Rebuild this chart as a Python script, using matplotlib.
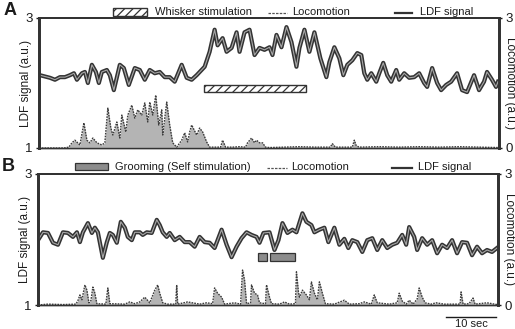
import matplotlib
matplotlib.use('Agg')
import matplotlib.pyplot as plt
from matplotlib.patches import Rectangle
from matplotlib.lines import Line2D

plt.rcParams['font.family'] = ['Liberation Sans', 'DejaVu Sans']
plt.rcParams['hatch.linewidth'] = 0.9

# ---------------- data (time in s, values in a.u.) ----------------
a_ldf_t = [0.2, 1.2, 2.2, 3.2, 4.2, 5.2, 6.2, 7.0, 7.6, 8.6, 9.2, 9.8, 10.6, 11.4, 12.0,
           12.6, 13.6, 14.2, 15.0, 16.2, 17.0, 18.0, 19.2, 20.2, 21.2, 22.2, 23.2, 24.2,
           25.2, 26.2, 27.2, 28.6, 29.6, 30.6, 31.6, 33.2, 34.2, 35.2, 35.8, 36.8, 37.6,
           38.6, 39.6, 40.2, 41.2, 42.2, 43.2, 44.2, 45.2, 46.2, 46.8, 47.6, 48.6, 49.6,
           50.6, 51.6, 52.2, 53.2, 54.2, 55.2, 56.4, 57.6, 58.2, 59.2, 60.2, 61.0, 61.8,
           62.8, 63.8, 64.6, 65.2, 65.8, 66.6, 67.6, 68.2, 69.0, 69.8, 70.6, 71.6, 72.2,
           73.2, 74.2, 75.2, 76.2, 77.2, 77.8, 78.8, 79.8, 80.6, 81.6, 82.6, 83.8, 84.8,
           85.8, 87.2, 88.2, 89.2, 89.8, 90.8, 91.6, 92.0]
a_ldf = [2.12, 2.10, 2.08, 2.05, 2.09, 2.09, 2.12, 2.15, 2.05, 2.15, 2.17, 2.00, 2.28, 2.17, 2.00,
         2.17, 2.20, 2.12, 1.89, 2.28, 2.23, 1.97, 2.23, 2.20, 2.05, 2.20, 2.15, 2.17,
         2.09, 2.09, 2.02, 2.28, 2.08, 2.05, 2.12, 2.25, 2.48, 2.82, 2.58, 2.69, 2.48,
         2.54, 2.78, 2.48, 2.78, 2.82, 2.43, 2.54, 2.51, 2.55, 2.43, 2.74, 2.55, 2.86,
         2.63, 2.25, 2.54, 2.82, 2.48, 2.78, 2.38, 2.09, 2.32, 2.55, 2.38, 2.12, 2.28,
         2.35, 2.46, 2.43, 2.15, 2.05, 2.15, 2.02, 2.15, 2.31, 2.12, 2.02, 2.20, 2.05,
         2.15, 2.08, 2.09, 2.15, 2.00, 1.94, 2.23, 2.00, 1.89, 1.97, 2.02, 2.15, 1.89,
         1.86, 2.12, 1.89, 2.02, 2.17, 2.05, 1.94, 2.02]

a_loco_t = [0.0, 5.0, 6.0, 6.6, 7.2, 8.2, 9.0, 9.6, 10.2, 10.8, 11.6, 12.6, 13.2, 13.8, 14.4,
            14.8, 15.6, 16.2, 16.6, 17.4, 17.8, 18.6, 19.2, 19.8, 20.6, 21.2, 21.8, 22.2,
            22.8, 23.4, 24.0, 24.6, 24.8, 25.6, 26.2, 26.8, 27.6, 28.6, 29.2, 29.8, 30.2,
            30.6, 31.6, 32.2, 32.8, 33.6, 34.2, 35.6, 36.4, 36.8, 37.4, 38.8, 40.2, 41.4,
            41.8, 42.6, 43.2, 43.6, 44.2, 44.8, 45.4, 46.2, 49.2, 52.2, 55.2, 58.4, 58.8,
            59.4, 62.8, 63.2, 63.6, 64.2, 68.2, 72.2, 76.2, 80.2, 84.2, 88.2, 92.0]
a_loco = [0.00, 0.00, 0.02, 0.12, 0.18, 0.07, 0.58, 0.18, 0.12, 0.23, 0.12, 0.07, 0.12, 0.92, 0.46,
          0.30, 0.60, 0.23, 0.76, 0.37, 0.76, 0.99, 0.69, 0.88, 0.76, 1.04, 0.60, 1.06,
          0.76, 1.22, 0.53, 0.88, 0.30, 1.06, 0.53, 0.12, 0.02, 0.18, 0.35, 0.14, 0.37,
          0.53, 0.30, 0.46, 0.37, 0.14, 0.02, 0.02, 0.02, 0.18, 0.02, 0.02, 0.03, 0.02,
          0.12, 0.23, 0.12, 0.18, 0.12, 0.12, 0.02, 0.01, 0.02, 0.03, 0.02, 0.02, 0.10,
          0.02, 0.02, 0.18, 0.05, 0.02, 0.03, 0.02, 0.03, 0.02, 0.03, 0.02, 0.01]

b_ldf_t = [0.0, 1.0, 2.0, 3.0, 4.0, 5.0, 6.0, 7.0, 7.8, 8.4, 9.0, 10.0, 10.8, 11.4, 12.0,
           13.0, 13.8, 14.4, 15.0, 15.8, 16.6, 17.4, 18.0, 18.8, 19.4, 20.4, 21.0, 21.8,
           22.8, 23.8, 24.4, 25.0, 25.8, 26.4, 27.4, 28.4, 29.4, 30.4, 31.4, 32.4, 33.4,
           34.4, 35.4, 36.8, 37.8, 38.8, 39.8, 40.8, 41.8, 42.8, 43.8, 44.4, 45.2, 46.4,
           47.4, 48.2, 49.0, 50.0, 51.0, 51.8, 53.0, 53.8, 54.8, 55.4, 56.4, 57.4, 58.2,
           59.4, 60.4, 61.4, 62.2, 63.0, 64.0, 65.0, 66.0, 67.0, 68.0, 69.0, 70.0, 71.0,
           72.0, 73.0, 73.8, 74.4, 75.4, 76.0, 77.0, 78.0, 79.0, 80.0, 81.0, 82.0, 83.0,
           84.0, 85.0, 86.0, 87.0, 88.0, 89.0, 90.0, 91.0, 92.0]
b_ldf = [1.99, 2.11, 2.10, 1.95, 1.92, 2.11, 2.10, 2.04, 2.11, 1.96, 2.11, 2.25, 2.10, 2.18, 2.11,
         1.72, 1.96, 2.10, 2.07, 1.95, 2.27, 2.18, 2.04, 1.99, 2.11, 2.11, 2.07, 2.11,
         2.10, 2.30, 2.22, 2.11, 2.04, 2.10, 1.99, 2.04, 1.96, 1.96, 1.89, 2.04, 1.96,
         1.95, 1.87, 2.15, 1.92, 1.73, 1.89, 2.02, 2.11, 2.07, 2.04, 1.95, 2.10, 2.11,
         1.84, 1.99, 2.25, 2.10, 2.15, 2.11, 2.40, 2.27, 2.22, 2.11, 2.15, 2.18, 1.96,
         2.18, 1.92, 2.01, 1.87, 1.99, 1.96, 1.81, 1.99, 2.02, 1.84, 1.99, 1.87, 1.92,
         1.95, 2.07, 1.92, 2.19, 2.04, 1.84, 2.02, 1.92, 1.99, 1.79, 1.92, 1.87, 1.99,
         1.79, 1.96, 1.95, 1.76, 1.89, 1.79, 1.84, 1.81, 1.87]

b_loco_t = [0.0, 2.0, 5.0, 7.6, 8.0, 8.4, 8.8, 9.4, 9.8, 10.2, 10.6, 11.0, 11.4, 11.8, 13.6,
            14.0, 14.4, 17.4, 18.4, 19.4, 20.4, 21.4, 22.4, 23.4, 24.0, 24.4, 25.0, 26.0,
            27.6, 27.8, 28.0, 30.0, 32.4, 33.8, 35.0, 35.4, 36.0, 36.8, 37.4, 39.4, 40.6,
            41.0, 41.4, 41.8, 42.6, 42.8, 43.4, 44.0, 44.4, 45.6, 45.8, 46.4, 46.8, 48.4,
            49.4, 50.4, 51.6, 51.8, 52.2, 52.4, 53.0, 53.8, 54.4, 54.8, 55.4, 56.0, 56.4,
            57.0, 57.6, 59.4, 61.4, 62.4, 64.4, 65.4, 66.8, 67.4, 68.0, 70.4, 72.0, 72.4,
            73.0, 73.8, 74.4, 75.2, 76.0, 76.4, 77.0, 77.6, 78.8, 79.8, 81.4, 84.6, 84.8,
            85.2, 86.4, 87.2, 87.6, 90.0, 92.0]
b_loco = [0.00, 0.02, 0.01, 0.02, 0.10, 0.23, 0.12, 0.46, 0.34, 0.05, 0.10, 0.41, 0.27, 0.03, 0.02,
          0.39, 0.03, 0.02, 0.07, 0.03, 0.07, 0.18, 0.05, 0.34, 0.46, 0.27, 0.05, 0.02,
          0.02, 0.46, 0.02, 0.07, 0.02, 0.05, 0.03, 0.39, 0.27, 0.18, 0.02, 0.05, 0.02,
          0.80, 0.57, 0.03, 0.05, 0.46, 0.27, 0.23, 0.05, 0.03, 0.46, 0.18, 0.03, 0.02,
          0.07, 0.02, 0.03, 0.76, 0.30, 0.18, 0.34, 0.23, 0.12, 0.53, 0.27, 0.12, 0.53,
          0.27, 0.03, 0.02, 0.11, 0.02, 0.03, 0.07, 0.02, 0.23, 0.05, 0.02, 0.05, 0.27,
          0.09, 0.02, 0.11, 0.02, 0.14, 0.39, 0.18, 0.05, 0.02, 0.05, 0.02, 0.02, 0.30,
          0.02, 0.03, 0.16, 0.02, 0.05, 0.01]

whisker_stim = [(33.0, 53.6)]
grooming_bouts = [(44.0, 45.8), (46.6, 51.6)]
ldf_ticks = [1, 3]
loco_ticks = [0, 3]
scale_bar_sec = 10
t_max = 92.2

LDF_DARK = '#333333'
LDF_CORE = '#a8a8a8'
LOCO_FILL = '#b4b4b4'
LOCO_EDGE = '#3c3c3c'
TXT = '#1c1c1c'

W, H = 515, 329
fig = plt.figure(figsize=(W / 100, H / 100), dpi=100)
axA = fig.add_axes([39/W, 1-148/H, 460/W, 130/H])
axB = fig.add_axes([38/W, 1-305/H, 460/W, 131/H])


def fx(px):
    return px / W


def fy(py):
    return 1 - py / H


def legend_row(y, patch_x, patch_style, stim_label, stim_text_x, loco_x, loco_text_x,
               ldf_x, ldf_text_x):
    fig.patches.append(Rectangle((fx(patch_x[0]), fy(y + 3.5)), fx(patch_x[1] - patch_x[0]),
                                 7 / H, transform=fig.transFigure, **patch_style))
    fig.text(fx(stim_text_x), fy(y), stim_label, fontsize=8, va='center', ha='left', color=TXT)
    fig.lines.append(Line2D([fx(loco_x[0]), fx(loco_x[1])], [fy(y + 0.5)] * 2,
                            transform=fig.transFigure, color='#555', lw=0.9, ls=(0, (2, 1))))
    fig.text(fx(loco_text_x), fy(y), 'Locomotion', fontsize=8, va='center', ha='left', color=TXT)
    fig.lines.append(Line2D([fx(ldf_x[0]), fx(ldf_x[1])], [fy(y + 0.5)] * 2,
                            transform=fig.transFigure, color='#333', lw=1.6))
    fig.text(fx(ldf_text_x), fy(y), 'LDF signal', fontsize=8, va='center', ha='left', color=TXT)


def draw_panel(ax, ldf_t, ldf, loco_t, loco, letter, stim, stim_y, stim_style):
    ax2 = ax.twinx()
    ax2.fill_between(loco_t, 0, loco, color=LOCO_FILL, lw=0)
    ax2.plot(loco_t, loco, color=LOCO_EDGE, lw=1.0, ls=(0, (1.2, 0.8)))
    ax2.set_ylim(0, 3)
    ax2.set_yticks(loco_ticks)
    ax2.text(1.024, 0.5, 'Locomotion (a.u.)', rotation=270, fontsize=8.5, color=TXT,
             ha='center', va='center', transform=ax2.transAxes)
    ax.plot(ldf_t, ldf, color=LDF_DARK, lw=3.0, solid_joinstyle='round', zorder=3)
    ax.plot(ldf_t, ldf, color=LDF_CORE, lw=0.8, zorder=4)
    ax.set_ylim(1, 3)
    ax.set_xlim(0, t_max)
    ax.set_yticks(ldf_ticks)
    ax.set_xticks([])
    ax.text(-0.028, 0.5, 'LDF signal (a.u.)', rotation=90, fontsize=8.5, color=TXT,
            ha='center', va='center', transform=ax.transAxes)
    for (s, e) in stim:
        ax.add_patch(Rectangle((s, stim_y[0]), e - s, stim_y[1] - stim_y[0], zorder=5,
                               **stim_style))
    for a in (ax, ax2):
        a.tick_params(axis='y', labelsize=9.5, length=2.5, width=1, pad=2, colors=TXT)
        for side in ('left', 'right', 'top', 'bottom'):
            a.spines[side].set_color('#333')
        a.spines['left'].set_linewidth(2.0)
        a.spines['right'].set_linewidth(2.0)
        a.spines['top'].set_linewidth(1.4)
        a.spines['bottom'].set_linewidth(1.0)
    ax.text(-0.078, 0.99, letter, transform=ax.transAxes, fontsize=13, fontweight='bold',
            ha='left', va='bottom', color=TXT)
    return ax2


hatch_style = dict(facecolor='white', edgecolor='#333', hatch='////', lw=1.0)
groom_style = dict(facecolor='#8c8c8c', edgecolor='#333', lw=0.9)

draw_panel(axA, a_ldf_t, a_ldf, a_loco_t, a_loco, 'A', whisker_stim, (1.86, 1.97), hatch_style)
draw_panel(axB, b_ldf_t, b_ldf, b_loco_t, b_loco, 'B', grooming_bouts, (1.67, 1.79), groom_style)

legend_row(12, (113, 147), hatch_style, 'Whisker stimulation', 155, (268, 287), 292,
           (395, 412), 420)
legend_row(167, (75, 108), groom_style, 'Grooming (Self stimulation)', 115, (267, 287), 291,
           (392, 412), 418)

# scale bar
axB.plot([t_max - 0.4 - scale_bar_sec, t_max - 0.4], [0.817, 0.817], color=TXT, lw=1.0,
         clip_on=False)
axB.text(t_max - 0.4 - scale_bar_sec / 2, 0.785, f'{scale_bar_sec} sec', ha='center', va='top',
         fontsize=8, color=TXT)

fig.savefig('out.png', dpi=100)
